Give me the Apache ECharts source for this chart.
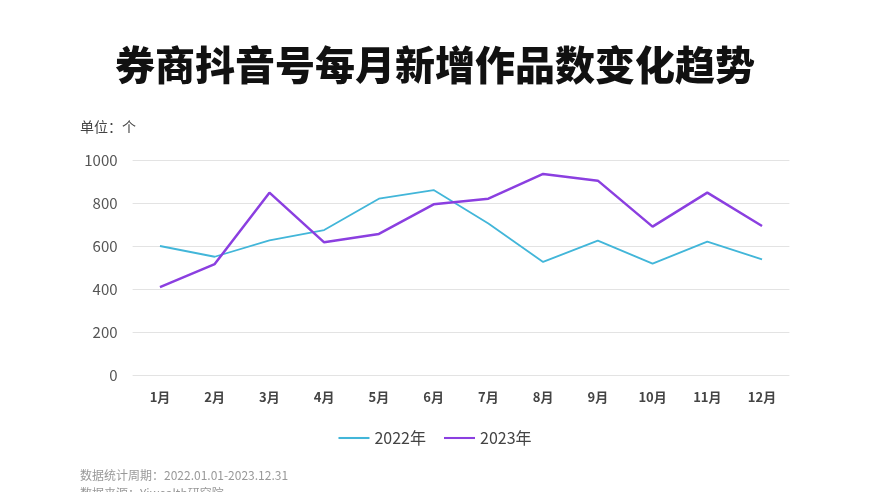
<!DOCTYPE html>
<html><head><meta charset="utf-8">
<script src="https://cdn.jsdelivr.net/npm/echarts@6/dist/echarts.min.js"></script>
<style>html,body{margin:0;padding:0;background:#fff}#c{width:870px;height:492px}</style>
</head><body><div id="c"></div>
<script>
const months = ['1月','2月','3月','4月','5月','6月','7月','8月','9月','10月','11月','12月'];
const yTicks = [0, 200, 400, 600, 800, 1000];
const s2022 = [600, 550, 626, 674, 820, 860, 705, 526, 625, 518, 620, 538];
const s2023 = [409, 516, 848, 617, 656, 794, 820, 935, 904, 690, 848, 693];
const seriesNames = ['2022年', '2023年'];
const font = '"Noto Sans CJK SC", "Noto Sans", sans-serif';
const chart = echarts.init(document.getElementById('c'), null, {renderer: 'canvas'});
chart.setOption({
  backgroundColor: '#fff',
  animation: false,
  title: [{
    text: '券商抖音号每月新增作品数变化趋势', left: 'center', top: 40,
    textStyle: {fontFamily: font, fontSize: 40, fontWeight: 900, color: '#111'}
  }, {
    text: '单位：个', left: 75, top: 115,
    textStyle: {fontFamily: font, fontSize: 14, fontWeight: 'normal', color: '#444'}
  }, {
    text: '数据统计周期：2022.01.01-2023.12.31\n数据来源：Yiwealth研究院', left: 75, top: 461,
    textStyle: {fontFamily: font, fontSize: 12, fontWeight: 'normal', color: '#999', lineHeight: 18}
  }],
  legend: {
    data: seriesNames, left: 'center', top: 425, itemWidth: 31, itemHeight: 10, itemGap: 18,
    icon: 'path://M0,4L30,4L30,6L0,6Z',
    textStyle: {fontFamily: font, fontSize: 16, color: '#444'}
  },
  grid: {left: 132.6, right: 80.6, top: 160, bottom: 117, containLabel: false},
  xAxis: {
    type: 'category', data: months, boundaryGap: true,
    axisLine: {show: false}, axisTick: {show: false},
    axisLabel: {fontFamily: font, fontSize: 13, fontWeight: 'bold', color: '#444', margin: 16}
  },
  yAxis: {
    type: 'value', min: 0, max: 1000, interval: 200,
    axisLine: {show: false}, axisTick: {show: false},
    axisLabel: {fontFamily: font, fontSize: 15, color: '#555', margin: 15,
      formatter: v => yTicks.includes(v) ? String(v) : ''},
    splitLine: {lineStyle: {color: '#e3e3e3', width: 1}}
  },
  series: [{
    name: seriesNames[0], type: 'line', data: s2022, symbol: 'none',
    itemStyle: {color: '#42b6d9'}, lineStyle: {color: '#42b6d9', width: 1.8}
  }, {
    name: seriesNames[1], type: 'line', data: s2023, symbol: 'none',
    itemStyle: {color: '#8b3fe0'}, lineStyle: {color: '#8b3fe0', width: 2.5}
  }]
});
</script></body></html>
